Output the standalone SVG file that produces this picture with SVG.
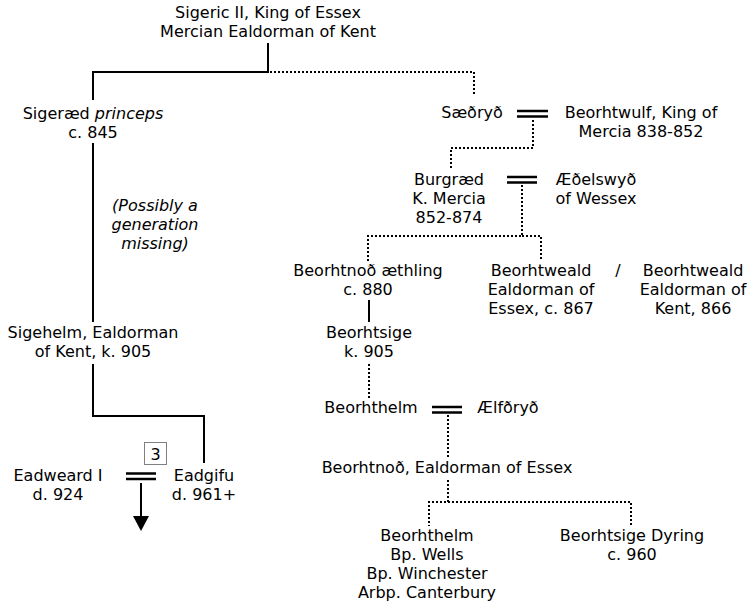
<svg xmlns="http://www.w3.org/2000/svg" width="749" height="605" viewBox="0 0 749 605">
<style>
text{font-family:"DejaVu Sans",Verdana,sans-serif;font-size:16px;fill:#000;text-anchor:middle}
.it{font-style:italic}
.solid{fill:none;stroke:#000;stroke-width:2}
.dot{fill:none;stroke:#000;stroke-width:2;stroke-dasharray:2 2}
.mar{stroke:#000;stroke-width:2.5}
</style>
<rect width="749" height="605" fill="#fff"/>
<g id="connectors">
<path class="solid" d="M268,43V72H93V100"/>
<path class="solid" d="M93,143V322"/>
<path class="solid" d="M93,364V416H204V463"/>
<path class="solid" d="M369,300V322"/>
<path class="dot" d="M270,72H474V94"/>
<path class="dot" d="M533,120V148H451V168"/>
<path class="dot" d="M522,185V236H368V261"/>
<path class="dot" d="M522,236H541V261"/>
<path class="dot" d="M369,364V399"/>
<path class="dot" d="M448,415V458"/>
<path class="dot" d="M448,480V502H429V526"/>
<path class="dot" d="M448,502H631V526"/>
<path class="solid" d="M141,483V517"/>
<polygon points="133,516 149,516 141,531" fill="#000"/>
<g id="marriages">
<path class="mar" d="M126,473.5H156M126,479H156"/>
<path class="mar" d="M517,111H548M517,116.5H548"/>
<path class="mar" d="M507,177H537M507,182.5H537"/>
<path class="mar" d="M432,407H462M432,412.5H462"/>
</g>
</g>
<g id="n-sigeric"><text x="268" y="18">Sigeric II, King of Essex</text><text x="268" y="37">Mercian Ealdorman of Kent</text></g>
<g id="n-sigeraed"><text x="93" y="119">Sigeræd <tspan class="it">princeps</tspan></text><text x="93" y="138">c. 845</text></g>
<g id="note"><text class="it" x="155" y="211">(Possibly a</text><text class="it" x="155" y="230">generation</text><text class="it" x="155" y="249">missing)</text></g>
<g id="n-sigehelm"><text x="93" y="338">Sigehelm, Ealdorman</text><text x="93" y="357">of Kent, k. 905</text></g>
<g id="n-eadweard"><text x="58" y="481">Eadweard I</text><text x="58" y="500">d. 924</text></g>
<g id="n-eadgifu"><text x="204" y="481">Eadgifu</text><text x="204" y="500">d. 961+</text></g>
<g id="n-box3"><rect x="144.5" y="442.5" width="22" height="22" fill="none" stroke="#000" stroke-width="1" stroke-dasharray="1 1"/><text x="155.5" y="460">3</text></g>
<g id="n-saedryd"><text x="472" y="118">Sæðryð</text></g>
<g id="n-beorhtwulf"><text x="641" y="118">Beorhtwulf, King of</text><text x="641" y="137">Mercia 838-852</text></g>
<g id="n-burgraed"><text x="449" y="185">Burgræd</text><text x="449" y="204">K. Mercia</text><text x="449" y="223">852-874</text></g>
<g id="n-aedelswyd"><text x="596" y="185">Æðelswyð</text><text x="596" y="204">of Wessex</text></g>
<g id="n-beorhtnod-aethling"><text x="368" y="276">Beorhtnoð æthling</text><text x="368" y="295">c. 880</text></g>
<g id="n-beorhtweald-essex"><text x="541" y="276">Beorhtweald</text><text x="541" y="295">Ealdorman of</text><text x="541" y="314">Essex, c. 867</text></g>
<g id="n-slash"><text x="618" y="276">/</text></g>
<g id="n-beorhtweald-kent"><text x="693" y="276">Beorhtweald</text><text x="693" y="295">Ealdorman of</text><text x="693" y="314">Kent, 866</text></g>
<g id="n-beorhtsige"><text x="369" y="338">Beorhtsige</text><text x="369" y="357">k. 905</text></g>
<g id="n-beorhthelm"><text x="371" y="413">Beorhthelm</text></g>
<g id="n-aelfdryd"><text x="508" y="413">Ælfðryð</text></g>
<g id="n-beorhtnod-ealdorman"><text x="447" y="473">Beorhtnoð, Ealdorman of Essex</text></g>
<g id="n-beorhthelm-bp"><text x="427" y="541">Beorhthelm</text><text x="427" y="560">Bp. Wells</text><text x="427" y="579">Bp. Winchester</text><text x="427" y="598">Arbp. Canterbury</text></g>
<g id="n-beorhtsige-dyring"><text x="632" y="541">Beorhtsige Dyring</text><text x="632" y="560">c. 960</text></g>
</svg>
